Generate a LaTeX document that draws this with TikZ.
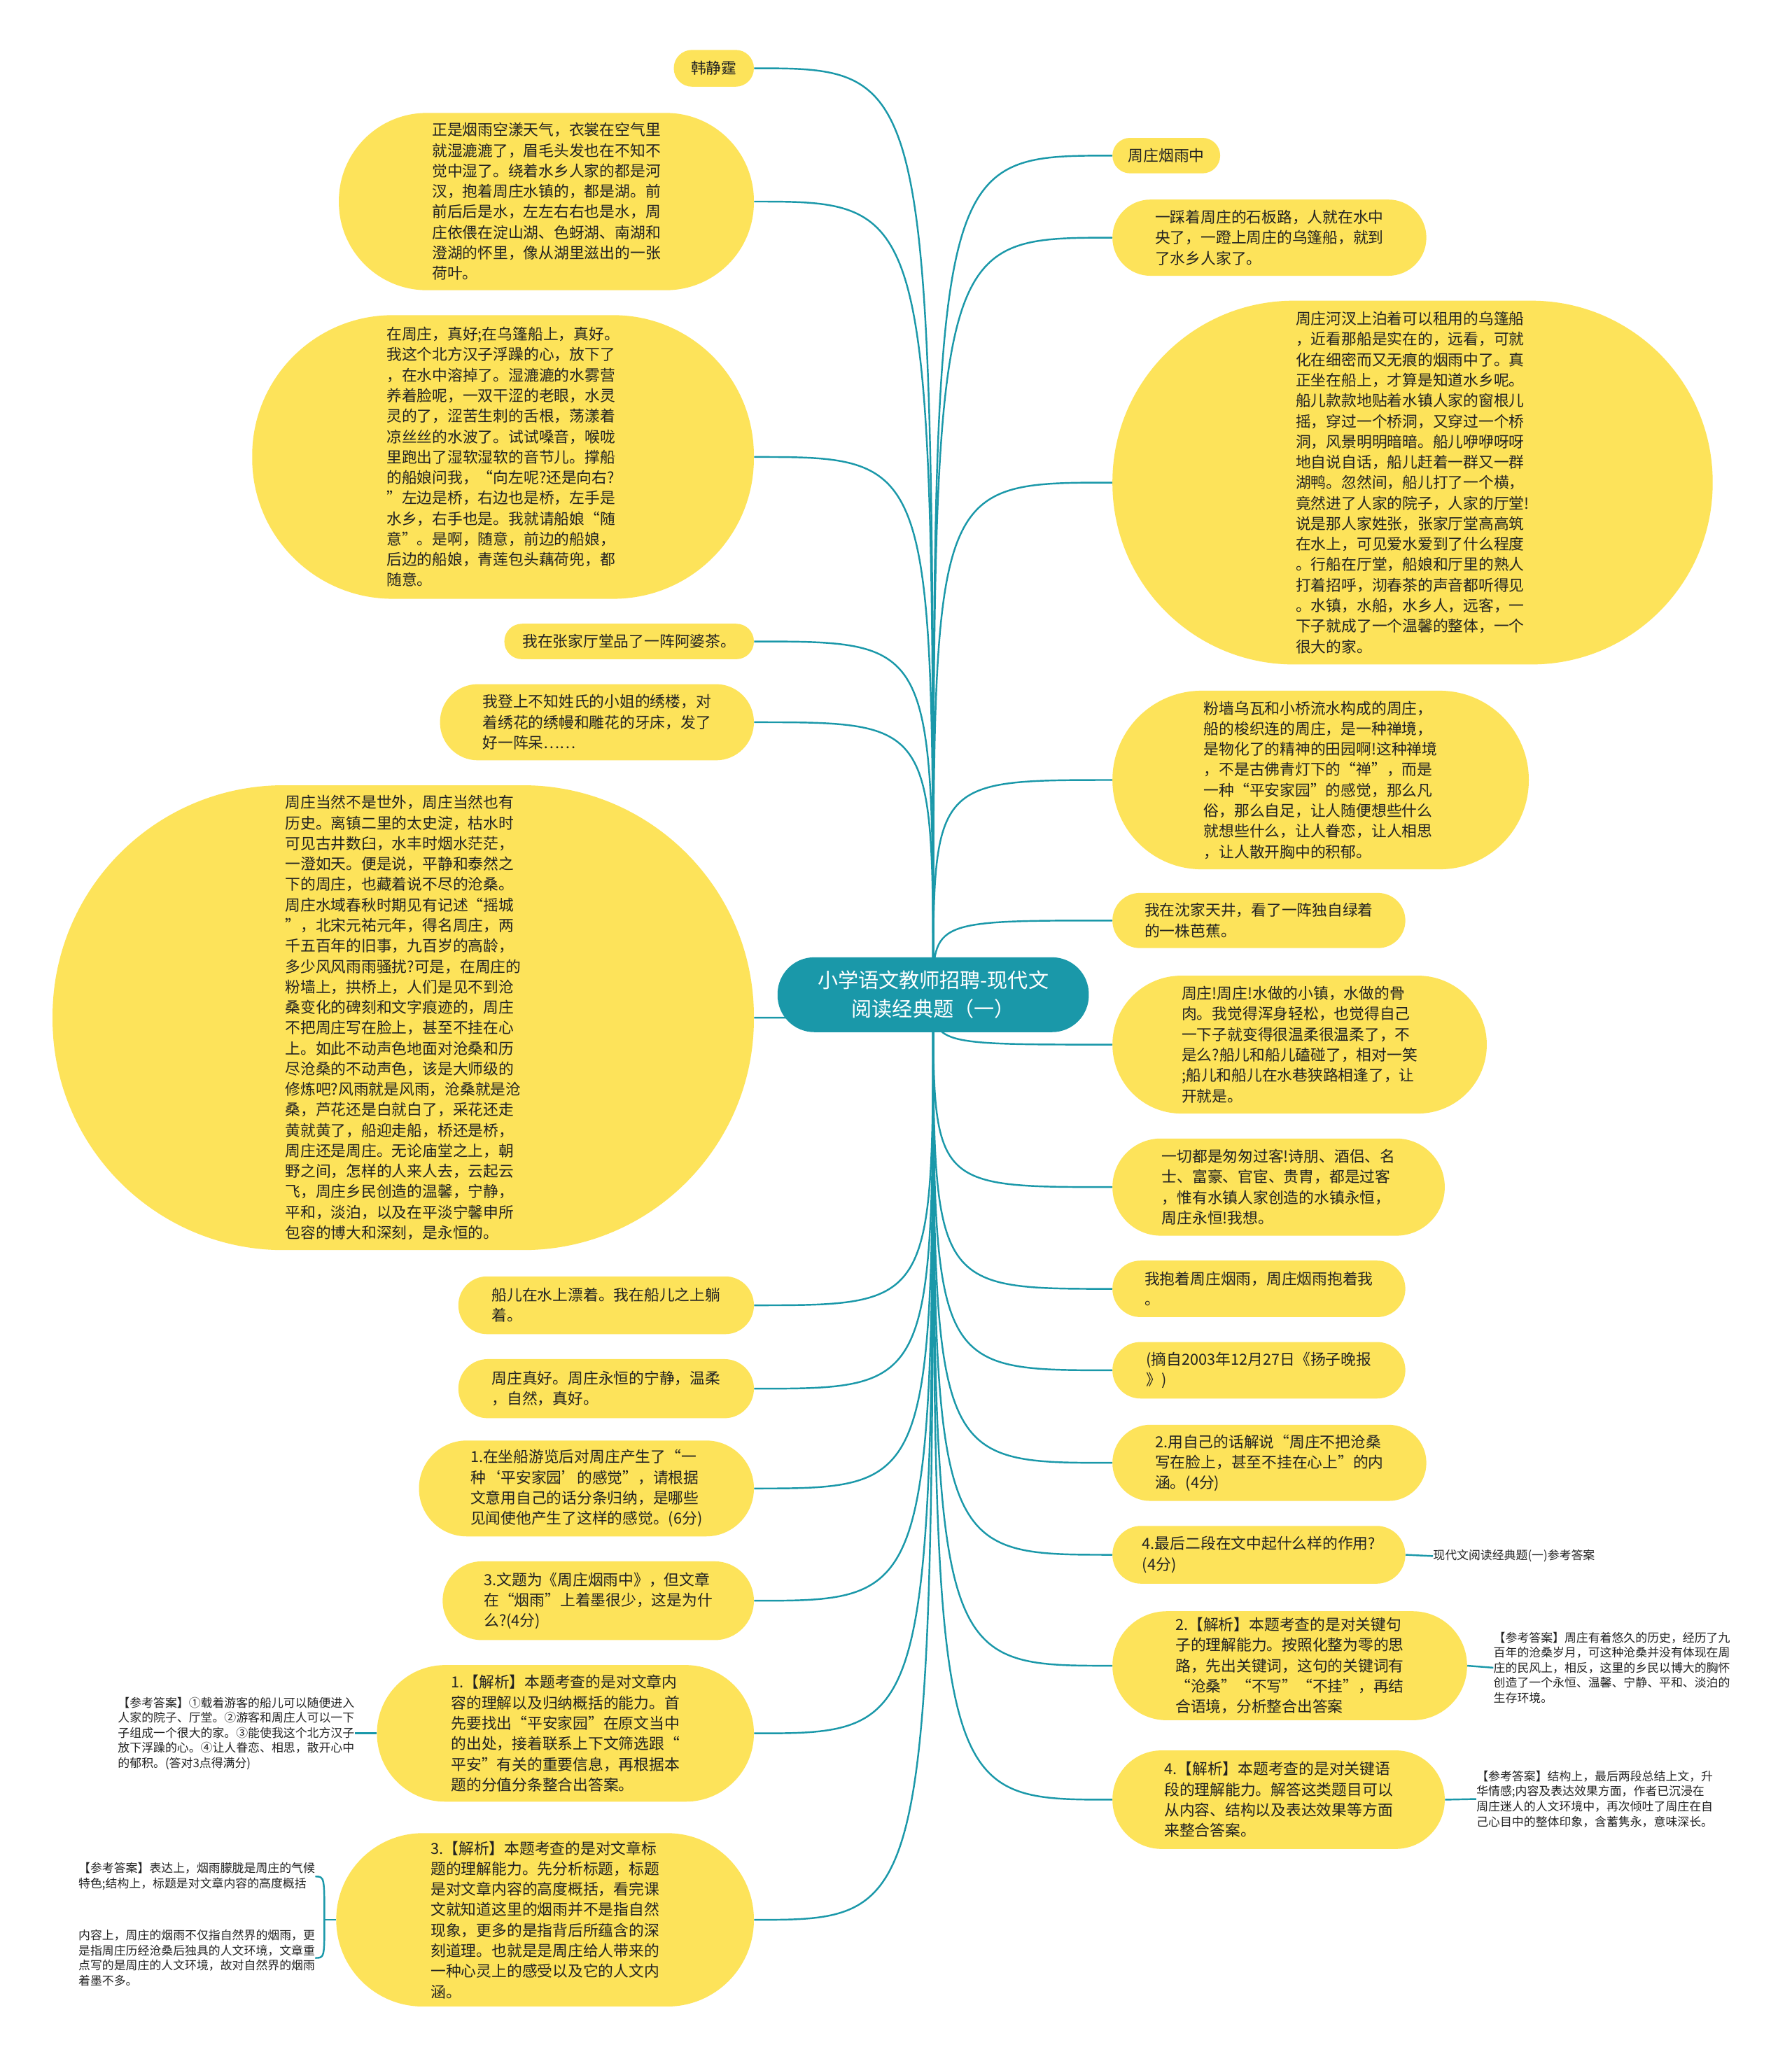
\documentclass[tikz,border=0pt]{standalone}
\usepackage{fontspec}
\setmainfont{Noto Sans CJK SC}
\usetikzlibrary{backgrounds}
\definecolor{bubyellow}{HTML}{FDE35A}
\definecolor{tealc}{HTML}{1A98A9}
\definecolor{txtc}{HTML}{222222}
\tikzset{
  bub/.style={fill=bubyellow, draw=none, inner sep=0pt, align=left, text=txtc, font=\fontsize{11.6}{15.6}\selectfont},
  hub/.style={fill=tealc, draw=none, inner sep=0pt, align=center, text=white, font=\fontsize{15.5}{22}\selectfont},
  note/.style={inner sep=0pt, align=left, text=txtc, font=\fontsize{9}{11.5}\selectfont},
  conn/.style={draw=tealc, line width=1.3pt}
}
\begin{document}
\begin{tikzpicture}[x=1pt, y=-1pt]
\useasboundingbox (0,0) rectangle (1364,1568);

% central node
\node[hub, minimum width=237pt, minimum height=57pt, rounded corners=28pt] (C) at (710.5,757.5) {小学语文教师招聘-现代文\\阅读经典题（一）};

% left nodes
\node[bub, minimum width=61pt, minimum height=28pt, rounded corners=13.9pt] (L1) at (543.5,52) {韩静霆};
\node[bub, minimum width=316pt, minimum height=135pt, rounded corners=67pt] (L2) at (416,153.5) {正是烟雨空漾天气，衣裳在空气里\\就湿漉漉了，眉毛头发也在不知不\\觉中湿了。绕着水乡人家的都是河\\汊，抱着周庄水镇的，都是湖。前\\前后后是水，左左右右也是水，周\\庄依偎在淀山湖、色蚜湖、南湖和\\澄湖的怀里，像从湖里滋出的一张\\荷叶。};
\node[bub, minimum width=382pt, minimum height=216pt, rounded corners=107pt] (L3) at (383,348) {在周庄，真好;在乌篷船上，真好。\\我这个北方汉子浮躁的心，放下了\\，在水中溶掉了。湿漉漉的水雾营\\养着脸呢，一双干涩的老眼，水灵\\灵的了，涩苦生刺的舌根，荡漾着\\凉丝丝的水波了。试试嗓音，喉咙\\里跑出了湿软湿软的音节儿。撑船\\的船娘问我，“向左呢?还是向右?\\”左边是桥，右边也是桥，左手是\\水乡，右手也是。我就请船娘“随\\意”。是啊，随意，前边的船娘，\\后边的船娘，青莲包头藕荷兜，都\\随意。};
\node[bub, minimum width=190pt, minimum height=27pt, rounded corners=13.4pt] (L4) at (479,488.5) {我在张家厅堂品了一阵阿婆茶。};
\node[bub, minimum width=239pt, minimum height=58pt, rounded corners=28.9pt] (L5) at (454.5,550) {我登上不知姓氏的小姐的绣楼，对\\着绣花的绣幔和雕花的牙床，发了\\好一阵呆……};
\node[bub, minimum width=534pt, minimum height=354pt, rounded corners=176pt] (L6) at (307,775) {周庄当然不是世外，周庄当然也有\\历史。离镇二里的太史淀，枯水时\\可见古井数臼，水丰时烟水茫茫，\\一澄如天。便是说，平静和泰然之\\下的周庄，也藏着说不尽的沧桑。\\周庄水域春秋时期见有记述“摇城\\”，北宋元祐元年，得名周庄，两\\千五百年的旧事，九百岁的高龄，\\多少风风雨雨骚扰?可是，在周庄的\\粉墙上，拱桥上，人们是见不到沧\\桑变化的碑刻和文字痕迹的，周庄\\不把周庄写在脸上，甚至不挂在心\\上。如此不动声色地面对沧桑和历\\尽沧桑的不动声色，该是大师级的\\修炼吧?风雨就是风雨，沧桑就是沧\\桑，芦花还是白就白了，采花还走\\黄就黄了，船迎走船，桥还是桥，\\周庄还是周庄。无论庙堂之上，朝\\野之间，怎样的人来人去，云起云\\飞，周庄乡民创造的温馨，宁静，\\平和，淡泊，以及在平淡宁馨申所\\包容的博大和深刻，是永恒的。};
\node[bub, minimum width=225pt, minimum height=44pt, rounded corners=21.9pt] (L7) at (461.5,994) {船儿在水上漂着。我在船儿之上躺\\着。};
\node[bub, minimum width=225pt, minimum height=45pt, rounded corners=22.4pt] (L8) at (461.5,1057.5) {周庄真好。周庄永恒的宁静，温柔\\，自然，真好。};
\node[bub, minimum width=255pt, minimum height=73pt, rounded corners=36.4pt] (L9) at (446.5,1133.5) {1.在坐船游览后对周庄产生了“一\\种‘平安家园’的感觉”，请根据\\文意用自己的话分条归纳，是哪些\\见闻使他产生了这样的感觉。(6分)};
\node[bub, minimum width=237pt, minimum height=60pt, rounded corners=29.9pt] (L10) at (455.5,1219) {3.文题为《周庄烟雨中》，但文章\\在“烟雨”上着墨很少，这是为什\\么?(4分)};
\node[bub, minimum width=287pt, minimum height=104pt, rounded corners=51.9pt] (L11) at (430.5,1320) {1.【解析】本题考查的是对文章内\\容的理解以及归纳概括的能力。首\\先要找出“平安家园”在原文当中\\的出处，接着联系上下文筛选跟“\\平安”有关的重要信息，再根据本\\题的分值分条整合出答案。};
\node[bub, minimum width=318pt, minimum height=132pt, rounded corners=65.9pt] (L12) at (415,1462) {3.【解析】本题考查的是对文章标\\题的理解能力。先分析标题，标题\\是对文章内容的高度概括，看完课\\文就知道这里的烟雨并不是指自然\\现象，更多的是指背后所蕴含的深\\刻道理。也就是是周庄给人带来的\\一种心灵上的感受以及它的人文内\\涵。};

% right nodes
\node[bub, minimum width=82pt, minimum height=27pt, rounded corners=13.4pt] (R1) at (888,118.5) {周庄烟雨中};
\node[bub, minimum width=239pt, minimum height=58pt, rounded corners=28.9pt] (R2) at (966.5,181) {一踩着周庄的石板路，人就在水中\\央了，一蹬上周庄的乌篷船，就到\\了水乡人家了。};
\node[bub, minimum width=457pt, minimum height=277pt, rounded corners=138pt] (R3) at (1075.5,367.5) {周庄河汊上泊着可以租用的乌篷船\\，近看那船是实在的，远看，可就\\化在细密而又无痕的烟雨中了。真\\正坐在船上，才算是知道水乡呢。\\船儿款款地贴着水镇人家的窗根儿\\摇，穿过一个桥洞，又穿过一个桥\\洞，风景明明暗暗。船儿咿咿呀呀\\地自说自话，船儿赶着一群又一群\\湖鸭。忽然间，船儿打了一个横，\\竟然进了人家的院子，人家的厅堂!\\说是那人家姓张，张家厅堂高高筑\\在水上，可见爱水爱到了什么程度\\。行船在厅堂，船娘和厅里的熟人\\打着招呼，沏春茶的声音都听得见\\。水镇，水船，水乡人，远客，一\\下子就成了一个温馨的整体，一个\\很大的家。};
\node[bub, minimum width=317pt, minimum height=136pt, rounded corners=67.9pt] (R4) at (1005.5,594) {粉墙乌瓦和小桥流水构成的周庄，\\船的梭织连的周庄，是一种禅境，\\是物化了的精神的田园啊!这种禅境\\，不是古佛青灯下的“禅”，而是\\一种“平安家园”的感觉，那么凡\\俗，那么自足，让人随便想些什么\\就想些什么，让人眷恋，让人相思\\，让人散开胸中的积郁。};
\node[bub, minimum width=223pt, minimum height=42pt, rounded corners=20.9pt] (R5) at (958.5,701) {我在沈家天井，看了一阵独自绿着\\的一株芭蕉。};
\node[bub, minimum width=285pt, minimum height=105pt, rounded corners=52.4pt] (R6) at (989.5,795.5) {周庄!周庄!水做的小镇，水做的骨\\肉。我觉得浑身轻松，也觉得自己\\一下子就变得很温柔很温柔了，不\\是么?船儿和船儿磕碰了，相对一笑\\;船儿和船儿在水巷狭路相逢了，让\\开就是。};
\node[bub, minimum width=253pt, minimum height=74pt, rounded corners=36.9pt] (R7) at (973.5,904) {一切都是匆匆过客!诗朋、酒侣、名\\士、富豪、官宦、贵胄，都是过客\\，惟有水镇人家创造的水镇永恒，\\周庄永恒!我想。};
\node[bub, minimum width=223pt, minimum height=43pt, rounded corners=21.4pt] (R8) at (958.5,981.5) {我抱着周庄烟雨，周庄烟雨抱着我\\。};
\node[bub, minimum width=223pt, minimum height=43pt, rounded corners=21.4pt] (R9) at (958.5,1043.5) {(摘自2003年12月27日《扬子晚报\\》)};
\node[bub, minimum width=239pt, minimum height=58pt, rounded corners=28.9pt] (R10) at (966.5,1114) {2.用自己的话解说“周庄不把沧桑\\写在脸上，甚至不挂在心上”的内\\涵。(4分)};
\node[bub, minimum width=223pt, minimum height=44pt, rounded corners=21.9pt] (R11) at (958.5,1184) {4.最后二段在文中起什么样的作用?\\(4分)};
\node[bub, minimum width=270pt, minimum height=83pt, rounded corners=41.4pt] (R12) at (982,1268.5) {2.【解析】本题考查的是对关键句\\子的理解能力。按照化整为零的思\\路，先出关键词，这句的关键词有\\“沧桑”“不写”“不挂”，再结\\合语境，分析整合出答案};
\node[bub, minimum width=253pt, minimum height=75pt, rounded corners=37.4pt] (R13) at (973.5,1370.5) {4.【解析】本题考查的是对关键语\\段的理解能力。解答这类题目可以\\从内容、结构以及表达效果等方面\\来整合答案。};

% notes
\node[note, anchor=west] (NR11) at (1091,1185) {现代文阅读经典题(一)参考答案};
\node[note, anchor=west] (NR12) at (1137,1270) {【参考答案】周庄有着悠久的历史，经历了九\\百年的沧桑岁月，可这种沧桑并没有体现在周\\庄的民风上，相反，这里的乡民以博大的胸怀\\创造了一个永恒、温馨、宁静、平和、淡泊的\\生存环境。};
\node[note, anchor=west] (NR13) at (1124,1370) {【参考答案】结构上，最后两段总结上文，升\\华情感;内容及表达效果方面，作者已沉浸在\\周庄迷人的人文环境中，再次倾吐了周庄在自\\己心目中的整体印象，含蓄隽永，意味深长。};
\node[note, anchor=east] (NL11) at (270,1320) {【参考答案】①载着游客的船儿可以随便进入\\人家的院子、厅堂。②游客和周庄人可以一下\\子组成一个很大的家。③能使我这个北方汉子\\放下浮躁的心。④让人眷恋、相思，散开心中\\的郁积。(答对3点得满分)};
\node[note, anchor=east] (NL12a) at (240,1429) {【参考答案】表达上，烟雨朦胧是周庄的气候\\特色;结构上，标题是对文章内容的高度概括};
\node[note, anchor=east] (NL12b) at (240,1491) {内容上，周庄的烟雨不仅指自然界的烟雨，更\\是指周庄历经沧桑后独具的人文环境，文章重\\点写的是周庄的人文环境，故对自然界的烟雨\\着墨不多。};
\coordinate (B12) at (247,1462);

% background and connectors
\begin{scope}[on background layer]
\fill[white] (0,0) rectangle (1364,1568);
\foreach \n in {L1,L2,L3,L4,L5,L6,L7,L8,L9,L10,L11,L12}
  \draw[conn] (C.center) .. controls (C.center |- \n.east) .. (\n.east);
\foreach \n in {R1,R2,R3,R4,R5,R6,R7,R8,R9,R10,R11,R12,R13}
  \draw[conn] (C.center) .. controls (C.center |- \n.west) .. (\n.west);
\draw[conn] (R11.east) -- (NR11.west);
\draw[conn] (R12.east) -- (NR12.west);
\draw[conn] (R13.east) -- (NR13.west);
\draw[conn] (L11.west) -- (NL11.east);
\draw[conn] (L12.west) -- (B12);
\draw[conn] (B12) .. controls (B12 |- NL12a.east) .. (NL12a.east);
\draw[conn] (B12) .. controls (B12 |- NL12b.east) .. (NL12b.east);
\end{scope}
\end{tikzpicture}
\end{document}
